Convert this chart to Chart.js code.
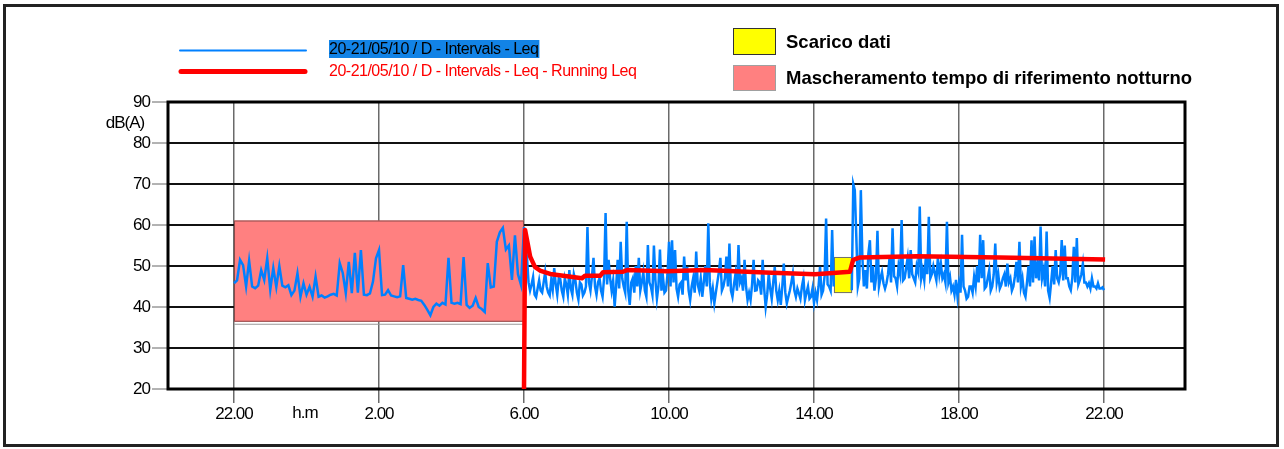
<!DOCTYPE html>
<html>
<head>
<meta charset="utf-8">
<script src="https://cdn.jsdelivr.net/npm/chart.js@4.4.1/dist/chart.umd.min.js"></script>
<style>
  body { margin: 0; background: #fff; }
  canvas { display: block; }
</style>
</head>
<body>
<canvas id="chart" width="1284" height="449"></canvas>
<script>
// x values are hours counted from 22:00 of 20/05/10
const xTickHours = [0, 4, 8, 12, 16, 20, 24];
const xTickLabels = ["22.00", "2.00", "6.00", "10.00", "14.00", "18.00", "22.00"];
const yTicks = [20, 25, 30, 35, 40, 45, 50, 55, 60, 65, 70, 75, 80, 85, 90];

// Leq intervals during the night, one value every 5 minutes, 22:00 -> 5:55
const nightStepMin = 5;
const leqNight = [
  45.8, 46.5, 51.5, 50.2, 45.0, 51.3, 45.0, 44.6, 45.2, 49.0, 46.6, 51.9,
  44.2, 49.5, 44.9, 50.0, 45.2, 44.8, 45.3, 42.9, 44.0, 48.2, 42.5, 45.8,
  43.0, 44.9, 42.5, 47.4, 42.5, 42.8, 42.3, 42.6, 43.0, 43.2, 42.8, 50.7,
  48.3, 43.4, 51.0, 43.4, 53.2, 43.5, 53.9, 43.0, 42.9, 43.3, 46.2, 51.9,
  53.9, 42.9, 43.0, 44.1, 42.8, 42.6, 42.4, 42.6, 50.2, 42.2, 42.0, 41.8,
  42.0, 41.7, 41.5, 40.5, 39.3, 38.0, 40.0, 40.8, 40.3, 41.0, 40.6, 52.0,
  41.0, 40.8, 41.0, 40.7, 52.2, 40.5, 39.8, 40.3, 42.2, 40.0, 39.5, 38.8,
  50.7, 44.8, 45.0, 55.9, 58.2, 59.3, 54.0, 55.0, 46.6, 57.5, 48.0, 45.4
];
// Leq intervals during the day, one value every 2.5 minutes, 6:00 -> 22:00
// (null = data download, nothing measured)
const dayStepMin = 2.5;
const leqDay = [
  59.5, 55.0, 52.0, 46.0, 44.0, 45.5, 47.3, 43.0, 42.4, 44.5, 46.5, 44.0, 43.5, 46.0, 48.5, 45.0, 43.5, 42.8, 46.5, 44.2, 49.5, 45.5, 43.0, 47.0,
  46.8, 44.0, 42.5, 47.0, 45.5, 43.0, 49.0, 44.5, 43.0, 48.0, 46.5, 43.5, 41.8, 46.0, 45.5, 42.8, 43.5, 45.0, 59.5, 46.0, 44.0, 47.5, 52.0, 45.0,
  43.0, 46.0, 47.0, 44.0, 42.5, 47.0, 62.9, 45.5, 51.5, 47.0, 44.0, 46.5, 40.1, 45.0, 51.5, 44.5, 55.9, 47.0, 45.0, 43.5, 60.8, 44.0, 40.5, 46.0,
  47.0, 43.5, 50.0, 45.0, 52.0, 44.0, 46.0, 48.5, 44.0, 42.5, 55.1, 46.0, 45.0, 43.0, 55.0, 46.5, 42.0, 45.0, 54.0, 44.0, 47.3, 43.5, 44.0, 48.0,
  55.9, 45.0, 56.3, 46.0, 53.9, 44.5, 42.5, 45.5, 46.0, 43.0, 52.3, 46.5, 49.8, 44.0, 41.7, 45.0, 47.0, 43.5, 53.5, 45.5, 44.0, 47.0, 42.5, 46.0,
  50.0, 45.0, 60.4, 46.0, 42.0, 44.5, 40.9, 43.5, 46.0, 48.5, 52.0, 44.0, 45.0, 47.0, 52.3, 45.0, 55.5, 44.0, 42.5, 45.5, 48.0, 44.0, 55.1, 46.0,
  47.0, 44.0, 51.5, 45.0, 41.7, 43.5, 41.7, 45.5, 51.5, 44.0, 44.1, 46.5, 46.0, 43.0, 51.5, 44.5, 40.0, 43.0, 48.0, 44.5, 42.0, 46.0, 49.8, 44.0,
  41.7, 44.0, 40.5, 45.0, 50.6, 43.5, 40.9, 42.5, 44.0, 46.0, 48.2, 44.0, 42.5, 44.5, 43.3, 42.0, 45.0, 47.0, 41.7, 43.5, 45.0, 42.0, 42.5, 44.5,
  41.0, 43.5, 41.7, 45.0, 49.8, 43.0, 44.0, 47.5, 61.6, 45.5, 45.0, 44.0, 58.8, 45.0, null, null, null, null, null, null, null, null, null, null,
  null, 44.1, 70.0, 68.5, 57.2, 45.0, 47.0, 68.5, 52.3, 45.0, 49.0, 44.5, 53.0, 56.3, 46.0, 50.0, 44.0, 47.0, 58.6, 45.0, 47.0, 48.5, 45.8, 44.5,
  45.8, 48.0, 52.0, 46.0, 59.2, 47.5, 47.0, 45.0, 50.0, 48.0, 61.2, 46.5, 47.0, 49.5, 52.0, 47.0, 53.9, 48.0, 47.0, 46.0, 50.0, 48.5, 64.5, 47.0,
  49.0, 46.5, 52.0, 48.0, 62.0, 47.0, 48.0, 50.0, 48.2, 46.5, 52.0, 48.0, 50.6, 47.0, 48.0, 46.0, 60.8, 46.0, 47.4, 44.0, 45.0, 43.0, 46.6, 42.5,
  45.8, 43.5, 57.6, 45.0, 44.0, 42.0, 42.5, 45.0, 45.0, 43.5, 47.4, 45.0, 50.0, 46.0, 57.6, 47.0, 56.3, 44.5, 45.0, 47.0, 49.0, 44.0, 45.0, 48.0,
  55.5, 46.0, 48.0, 44.5, 45.4, 47.0, 48.0, 45.0, 50.6, 46.0, 47.0, 44.0, 45.0, 47.5, 51.0, 46.0, 55.9, 45.0, 47.0, 43.5, 42.5, 46.0, 50.0, 45.0,
  56.3, 46.0, 57.2, 47.0, 50.0, 46.5, 59.6, 47.0, 49.0, 45.0, 58.4, 44.0, 42.2, 46.0, 50.0, 45.5, 53.9, 47.0, 46.0, 48.0, 56.3, 46.5, 55.0, 47.0,
  47.0, 45.0, 44.1, 47.0, 54.7, 46.0, 56.8, 45.5, 46.6, 48.0, 50.6, 46.0, 46.0, 45.0, 45.8, 44.5, 47.0, 45.0, 45.0, 44.5, 45.8, 44.5, 44.5, 44.8,
  44.1
];

// Running Leq
const runHours = [8.0, 8.03, 8.17, 8.30, 8.44, 8.72, 9.08, 9.60, 9.68, 10.10, 10.18,
  10.73, 10.84, 11.94, 12.99, 14.65, 16.03, 16.52, 16.99, 17.08, 17.27, 18.84, 21.13, 24.03];
const runLeq = [20, 58.8, 52.3, 49.8, 48.9, 48.05, 47.6, 47.0, 47.6, 47.6, 48.5,
  48.6, 49.0, 48.7, 49.0, 48.4, 48.0, 48.3, 48.6, 51.5, 52.1, 52.4, 52.1, 51.6];

// masked night period and data download
const maskHours = [0, 8];
const maskLevels = [36.4, 61.1];
const downloadHours = [16.55, 17.05];
const downloadLevels = [43.4, 52.2];

const sans = "'Liberation Sans', Arial, sans-serif";

const leqPoints = leqNight.map((v, i) => ({ x: i * nightStepMin / 60, y: v }))
  .concat(leqDay.map((v, i) => ({ x: 8 + i * dayStepMin / 60, y: v })));
const runPoints = runHours.map((h, i) => ({ x: h, y: runLeq[i] }));

function drawBox(ctx, xs, ys, hours, levels, fill, stroke) {
  const l = xs.getPixelForValue(hours[0]);
  const r = xs.getPixelForValue(hours[1]);
  const t = ys.getPixelForValue(levels[1]);
  const b = ys.getPixelForValue(levels[0]);
  ctx.fillStyle = fill;
  ctx.fillRect(l, t, r - l, b - t);
  ctx.strokeStyle = stroke;
  ctx.lineWidth = 1;
  ctx.strokeRect(l + 0.5, t + 0.5, r - l - 1, b - t - 1);
}

const decorations = {
  id: "decorations",
  beforeDraw(chart) {
    // the original fonts are tightly spaced
    chart.ctx.letterSpacing = "-1px";
  },
  beforeDatasetsDraw(chart) {
    const ctx = chart.ctx;
    const a = chart.chartArea;
    const xs = chart.scales.x, ys = chart.scales.y;
    ctx.save();
    drawBox(ctx, xs, ys, maskHours, maskLevels, "#ff8080", "#8a4a4a");
    // light shadow line under the mask
    ctx.strokeStyle = "#9a9a9a";
    ctx.beginPath();
    const mb = ys.getPixelForValue(maskLevels[0]) + 2.5;
    ctx.moveTo(xs.getPixelForValue(maskHours[0]), mb);
    ctx.lineTo(xs.getPixelForValue(maskHours[1]), mb);
    ctx.stroke();
    drawBox(ctx, xs, ys, downloadHours, downloadLevels, "#ffff00", "#707070");
    // plot frame
    ctx.strokeStyle = "#000";
    ctx.lineWidth = 3;
    ctx.strokeRect(a.left, a.top, a.right - a.left, a.bottom - a.top);
    ctx.restore();
  },
  afterDraw(chart) {
    const ctx = chart.ctx;
    ctx.save();
    // outer frame
    ctx.strokeStyle = "#222";
    ctx.lineWidth = 3;
    ctx.strokeRect(4.5, 5.5, 1273, 440);

    // legend, series
    ctx.lineCap = "round";
    ctx.strokeStyle = "#0080ff";
    ctx.lineWidth = 2;
    ctx.beginPath(); ctx.moveTo(180, 50.5); ctx.lineTo(306, 50.5); ctx.stroke();
    ctx.strokeStyle = "#ff0000";
    ctx.lineWidth = 5;
    ctx.beginPath(); ctx.moveTo(181, 71.5); ctx.lineTo(305, 71.5); ctx.stroke();

    ctx.letterSpacing = "-0.5px";
    ctx.font = "16px " + sans;
    ctx.textBaseline = "middle";
    ctx.textAlign = "left";
    const t1 = "20-21/05/10 / D - Intervals - Leq";
    const w1 = ctx.measureText(t1).width;
    ctx.fillStyle = "#1283e6";
    ctx.fillRect(329, 40, w1 + 1, 18);
    ctx.fillStyle = "#000";
    ctx.fillText(t1, 329, 49.5);
    ctx.fillStyle = "#ff0000";
    ctx.fillText("20-21/05/10 / D - Intervals - Leq - Running Leq", 329, 71.5);

    // legend, areas
    ctx.fillStyle = "#ffff00";
    ctx.fillRect(733, 28, 43, 27);
    ctx.strokeStyle = "#333";
    ctx.lineWidth = 1;
    ctx.strokeRect(733.5, 28.5, 42, 26);
    ctx.fillStyle = "#ff8080";
    ctx.fillRect(733, 65, 43, 26);
    ctx.strokeStyle = "#a0a0a0";
    ctx.strokeRect(733.5, 65.5, 42, 25);

    ctx.letterSpacing = "0px";
    ctx.fillStyle = "#000";
    ctx.font = "bold 18.5px " + sans;
    ctx.fillText("Scarico dati", 786, 42.5);
    ctx.fillText("Mascheramento tempo di riferimento notturno", 786, 79);

    // axis captions
    ctx.letterSpacing = "-1px";
    ctx.font = "17px " + sans;
    ctx.textAlign = "center";
    ctx.fillText("dB(A)", 125, 123);
    ctx.fillText("h.m", 305, 413);
    ctx.restore();
  }
};

new Chart(document.getElementById("chart"), {
  type: "line",
  data: {
    datasets: [
      {
        label: "20-21/05/10 / D - Intervals - Leq - Running Leq",
        data: runPoints,
        borderColor: "#ff0000",
        borderWidth: 4.5,
        borderJoinStyle: "round",
        pointRadius: 0,
        tension: 0,
      },
      {
        label: "20-21/05/10 / D - Intervals - Leq",
        data: leqPoints,
        borderColor: "#0080ff",
        borderWidth: 2.5,
        pointRadius: 0,
        tension: 0,
        spanGaps: false,
      },
    ],
  },
  options: {
    responsive: false,
    animation: false,
    layout: { padding: { left: 108, top: 102, right: 99, bottom: 20 } },
    plugins: { legend: { display: false }, tooltip: { enabled: false } },
    scales: {
      x: {
        type: "linear",
        min: -1.821,
        max: 26.234,
        afterBuildTicks: (axis) => { axis.ticks = xTickHours.map((v) => ({ value: v })); },
        afterFit: (axis) => { axis.height = 40; },
        border: { display: false },
        grid: { color: "#6a6a6a", lineWidth: 1.5, tickLength: 14 },
        ticks: {
          autoSkip: false,
          maxRotation: 0,
          padding: 1,
          color: "#000",
          font: { family: sans, size: 17 },
          callback: (value) => xTickLabels[xTickHours.indexOf(value)],
        },
      },
      y: {
        min: 20,
        max: 90,
        afterBuildTicks: (axis) => { axis.ticks = yTicks.map((v) => ({ value: v })); },
        afterFit: (axis) => { axis.width = 60; },
        border: { display: false },
        grid: {
          color: "#111",
          lineWidth: 2,
          tickLength: 16,
          tickWidth: 1,
          tickColor: (ctx) => (ctx.tick && ctx.tick.value % 10 === 0 ? "#666" : "rgba(0,0,0,0)"),
        },
        ticks: {
          padding: 2,
          color: "#000",
          font: { family: sans, size: 17 },
          callback: (value) => (value % 10 === 0 ? String(value) : ""),
        },
      },
    },
  },
  plugins: [decorations],
});
</script>
</body>
</html>
